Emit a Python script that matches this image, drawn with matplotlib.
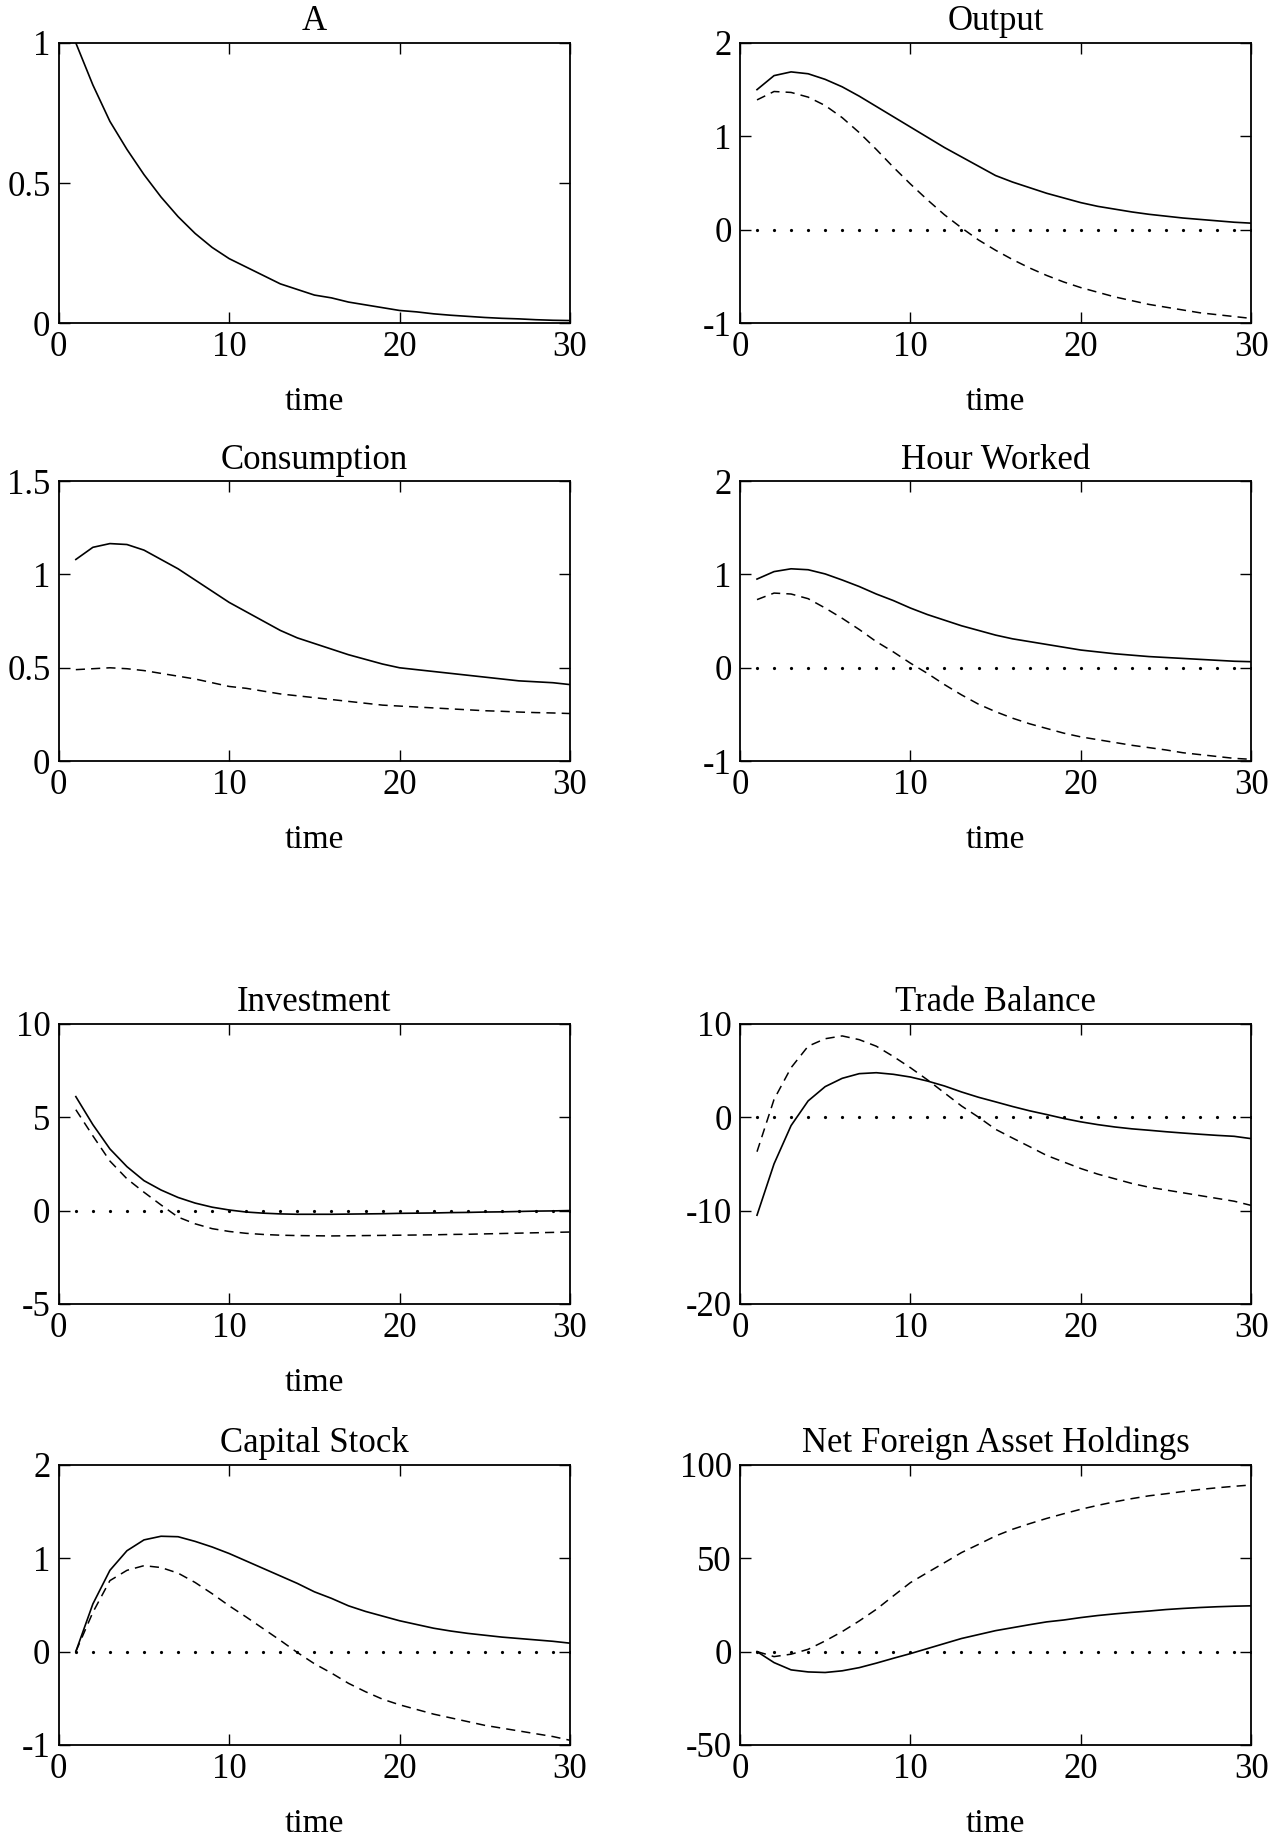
import matplotlib
matplotlib.use('Agg')
import matplotlib.pyplot as plt
import numpy as np

plt.rcParams['font.family'] = ['Liberation Serif', 'DejaVu Serif']
plt.rcParams['axes.unicode_minus'] = False

time = np.arange(1, 31)

# impulse responses (solid / dashed)
a_solid = [1.00, 0.85, 0.72, 0.62, 0.53, 0.45, 0.38, 0.32, 0.27, 0.23,
           0.20, 0.17, 0.14, 0.12, 0.10, 0.09, 0.075, 0.065, 0.055, 0.045,
           0.04, 0.033, 0.028, 0.024, 0.02, 0.017, 0.015, 0.012, 0.01, 0.009]

output_solid = [1.50, 1.65, 1.69, 1.67, 1.61, 1.53, 1.43, 1.32, 1.21, 1.10,
                0.99, 0.88, 0.78, 0.68, 0.58, 0.51, 0.45, 0.39, 0.34, 0.29,
                0.25, 0.22, 0.19, 0.165, 0.145, 0.125, 0.11, 0.095, 0.08, 0.07]
output_dashed = [1.39, 1.48, 1.47, 1.42, 1.33, 1.20, 1.04, 0.86, 0.67, 0.49,
                 0.32, 0.16, 0.02, -0.11, -0.22, -0.32, -0.41, -0.49, -0.56, -0.62,
                 -0.67, -0.72, -0.76, -0.80, -0.83, -0.86, -0.89, -0.91, -0.93, -0.95]

cons_solid = [1.08, 1.145, 1.165, 1.16, 1.13, 1.08, 1.03, 0.97, 0.91, 0.85,
              0.80, 0.75, 0.70, 0.66, 0.63, 0.60, 0.57, 0.545, 0.52, 0.50,
              0.49, 0.48, 0.47, 0.46, 0.45, 0.44, 0.43, 0.425, 0.42, 0.41]
cons_dashed = [0.49, 0.495, 0.50, 0.495, 0.485, 0.47, 0.455, 0.44, 0.42, 0.40,
               0.39, 0.375, 0.36, 0.35, 0.34, 0.33, 0.32, 0.31, 0.30, 0.295,
               0.29, 0.285, 0.28, 0.275, 0.27, 0.267, 0.263, 0.26, 0.258, 0.255]

hours_solid = [0.95, 1.03, 1.06, 1.05, 1.005, 0.94, 0.87, 0.79, 0.72, 0.64,
               0.57, 0.51, 0.45, 0.40, 0.35, 0.31, 0.28, 0.25, 0.22, 0.19,
               0.17, 0.15, 0.135, 0.12, 0.11, 0.10, 0.09, 0.08, 0.07, 0.065]
hours_dashed = [0.73, 0.80, 0.79, 0.74, 0.64, 0.53, 0.41, 0.28, 0.17, 0.05,
                -0.06, -0.18, -0.29, -0.39, -0.47, -0.54, -0.60, -0.65, -0.70, -0.74,
                -0.77, -0.80, -0.83, -0.855, -0.88, -0.91, -0.93, -0.95, -0.97, -0.98]

inv_solid = [6.1, 4.6, 3.3, 2.35, 1.6, 1.1, 0.7, 0.4, 0.18, 0.03,
             -0.08, -0.14, -0.18, -0.2, -0.2, -0.2, -0.19, -0.18, -0.17, -0.15,
             -0.14, -0.13, -0.11, -0.1, -0.08, -0.07, -0.05, -0.03, -0.02, 0.0]
inv_dashed = [5.4, 4.0, 2.65, 1.7, 0.98, 0.3, -0.35, -0.71, -0.97, -1.12,
              -1.22, -1.28, -1.32, -1.34, -1.35, -1.36, -1.35, -1.34, -1.33, -1.32,
              -1.31, -1.30, -1.28, -1.27, -1.25, -1.23, -1.21, -1.19, -1.17, -1.15]

tb_solid = [-10.5, -5.0, -0.9, 1.74, 3.27, 4.16, 4.66, 4.76, 4.59, 4.3,
            3.87, 3.34, 2.7, 2.13, 1.64, 1.14, 0.68, 0.28, -0.14, -0.5,
            -0.8, -1.05, -1.25, -1.4, -1.56, -1.7, -1.83, -1.95, -2.05, -2.3]
tb_dashed = [-3.7, 1.9, 5.3, 7.6, 8.4, 8.7, 8.3, 7.6, 6.5, 5.3,
             4.0, 2.6, 1.2, 0.0, -1.3, -2.24, -3.16, -4.1, -4.8, -5.5,
             -6.1, -6.6, -7.1, -7.5, -7.8, -8.1, -8.4, -8.7, -9.0, -9.45]

cap_solid = [0.0, 0.51, 0.87, 1.08, 1.196, 1.235, 1.23, 1.18, 1.12, 1.05,
             0.97, 0.89, 0.81, 0.73, 0.64, 0.57, 0.49, 0.43, 0.38, 0.33,
             0.29, 0.25, 0.22, 0.195, 0.175, 0.155, 0.14, 0.125, 0.11, 0.09]
cap_dashed = [0.0, 0.42, 0.76, 0.87, 0.92, 0.90, 0.84, 0.74, 0.62, 0.49,
              0.37, 0.245, 0.12, -0.01, -0.13, -0.23, -0.34, -0.43, -0.51, -0.57,
              -0.62, -0.67, -0.71, -0.75, -0.79, -0.82, -0.85, -0.88, -0.91, -0.95]

nfa_solid = [0.0, -5.9, -9.8, -10.9, -11.2, -10.3, -8.6, -6.2, -3.6, -1.1,
             1.6, 4.3, 7.0, 9.1, 11.2, 12.8, 14.4, 15.9, 16.9, 18.2,
             19.3, 20.2, 21.0, 21.7, 22.5, 23.1, 23.6, 24.0, 24.3, 24.5]
nfa_dashed = [0.0, -2.7, -1.4, 1.2, 5.7, 10.7, 16.4, 22.6, 29.8, 36.9,
              42.3, 47.6, 53.0, 57.4, 61.9, 65.5, 68.5, 71.3, 73.8, 76.2,
              78.3, 80.2, 81.9, 83.4, 84.5, 85.7, 86.8, 87.7, 88.5, 89.2]

zero_line = [0.0] * 30

titles = ['A', 'Output', 'Consumption', 'Hour Worked',
          'Investment', 'Trade Balance', 'Capital Stock', 'Net Foreign Asset Holdings']
ytick_values = [[0, 0.5, 1], [-1, 0, 1, 2], [0, 0.5, 1, 1.5], [-1, 0, 1, 2],
                [-5, 0, 5, 10], [-20, -10, 0, 10], [-1, 0, 1, 2], [-50, 0, 50, 100]]
ytick_labels = [['0', '0.5', '1'], ['-1', '0', '1', '2'], ['0', '0.5', '1', '1.5'],
                ['-1', '0', '1', '2'], ['-5', '0', '5', '10'], ['-20', '-10', '0', '10'],
                ['-1', '0', '1', '2'], ['-50', '0', '50', '100']]
xtick_values = [0, 10, 20, 30]

panels = [
    (a_solid, None, False, True),
    (output_solid, output_dashed, True, True),
    (cons_solid, cons_dashed, False, True),
    (hours_solid, hours_dashed, True, True),
    (inv_solid, inv_dashed, True, True),
    (tb_solid, tb_dashed, True, False),
    (cap_solid, cap_dashed, True, True),
    (nfa_solid, nfa_dashed, True, True),
]

fig = plt.figure(figsize=(12.78, 18.43), dpi=100)

lefts = [0.046, 0.579]
bottoms = [0.8247, 0.587, 0.2925, 0.0532]
w, h = 0.400, 0.152

for i, (solid, dashed, zero, has_xlabel) in enumerate(panels):
    ax = fig.add_axes([lefts[i % 2], bottoms[i // 2], w, h])
    if zero:
        ax.plot(time, zero_line, linestyle='none', marker='o', ms=2.3,
                mec='none', mfc='black')
    if dashed is not None:
        ax.plot(time, dashed, color='black', lw=1.1, dashes=(6, 4))
    ax.plot(time, solid, color='black', lw=1.2)

    ax.set_xlim(0, 30)
    ax.set_ylim(ytick_values[i][0], ytick_values[i][-1])
    ax.set_xticks(xtick_values)
    ax.set_xticklabels([str(v) for v in xtick_values])
    ax.set_yticks(ytick_values[i])
    ax.set_yticklabels(ytick_labels[i])
    ax.tick_params(direction='in', top=True, right=True, length=8, width=1.0,
                   labelsize=25, pad=6)
    for sp in ax.spines.values():
        sp.set_linewidth(1.3)
    ax.set_title(titles[i], fontsize=25, pad=9)
    if has_xlabel:
        ax.set_xlabel('time', fontsize=24, labelpad=16)

fig.savefig('out.png', dpi=100)
